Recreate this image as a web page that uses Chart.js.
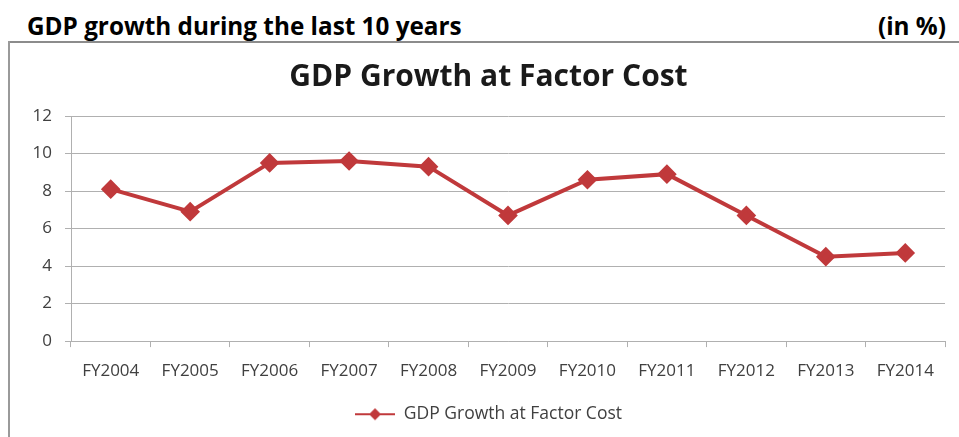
<!DOCTYPE html>
<html>
<head>
<meta charset="utf-8">
<script src="https://cdn.jsdelivr.net/npm/chart.js@4/dist/chart.umd.min.js"></script>
<style>
  html, body { margin: 0; padding: 0; background: #fff; }
  body { width: 959px; height: 437px; position: relative; overflow: hidden; font-family: "Open Sans", sans-serif; }
  .heading { position: absolute; top: 9px; font-weight: bold; font-size: 24.3px; color: #000; line-height: 34px; }
  #headLeft { left: 27px; }
  #headRight { right: 13px; }
  #rule { position: absolute; left: 8px; right: 0; top: 41px; height: 0; border-top: 2px solid #8c8c8c; }
  #frame { position: absolute; left: 8px; top: 41px; bottom: 0; width: 0; border-left: 2px solid #9a9a9a; }
  #wrap { position: absolute; left: 10px; top: 43px; width: 949px; height: 394px; }
</style>
</head>
<body>
<div class="heading" id="headLeft">GDP growth during the last 10 years</div>
<div class="heading" id="headRight">(in %)</div>
<div id="rule"></div>
<div id="frame"></div>
<div id="wrap"><canvas id="gdpChart"></canvas></div>
<script>
const years = ['FY2004', 'FY2005', 'FY2006', 'FY2007', 'FY2008', 'FY2009', 'FY2010', 'FY2011', 'FY2012', 'FY2013', 'FY2014'];
const growth = [8.1, 6.9, 9.5, 9.6, 9.3, 6.7, 8.6, 8.9, 6.7, 4.5, 4.7];
const yTicks = [0, 2, 4, 6, 8, 10, 12];

const red = '#c0393b';
const gridGray = '#b0b0b0';
const textGray = '#404040';

// legend icon: short line with a diamond in the middle
function legendIcon() {
  const c = document.createElement('canvas');
  c.width = 40; c.height = 14;
  const g = c.getContext('2d');
  g.strokeStyle = red; g.lineWidth = 2;
  g.beginPath(); g.moveTo(0, 7); g.lineTo(40, 7); g.stroke();
  g.fillStyle = red;
  g.beginPath(); g.moveTo(20, 1); g.lineTo(26, 7); g.lineTo(20, 13); g.lineTo(14, 7); g.closePath(); g.fill();
  return c;
}

const ctx = document.getElementById('gdpChart').getContext('2d');
new Chart(ctx, {
  type: 'line',
  data: {
    labels: years,
    datasets: [{
      label: 'GDP Growth at Factor Cost',
      data: growth,
      borderColor: red,
      backgroundColor: red,
      borderWidth: 4,
      pointStyle: 'rectRot',
      pointRadius: 7,
      pointBackgroundColor: red,
      pointBorderColor: red,
      tension: 0
    }]
  },
  options: {
    responsive: true,
    maintainAspectRatio: false,
    animation: false,
    layout: { padding: { left: 22, right: 14, top: 0, bottom: 4 } },
    plugins: {
      title: {
        display: true,
        text: 'GDP Growth at Factor Cost',
        color: '#1a1a1a',
        font: { family: 'Open Sans', size: 30, weight: 'bold' },
        padding: { top: 16, bottom: 21 }
      },
      legend: {
        position: 'bottom',
        labels: {
          usePointStyle: true,
          pointStyle: legendIcon(),
          pointStyleWidth: 40,
          color: textGray,
          font: { family: 'Open Sans', size: 17.5 },
          padding: 10
        }
      },
      tooltip: { enabled: false }
    },
    scales: {
      x: {
        offset: true,
        grid: { offset: true, drawOnChartArea: false, drawTicks: true, tickLength: 6, color: gridGray },
        border: { color: gridGray, width: 1 },
        ticks: { color: textGray, font: { family: 'Open Sans', size: 17 }, padding: 14, maxRotation: 0, autoSkip: false }
      },
      y: {
        min: 0,
        max: 12,
        afterFit: (scale) => { scale.width = 39; },
        afterBuildTicks: (scale) => { scale.ticks = yTicks.map(v => ({ value: v })); },
        grid: { color: gridGray, tickLength: 6 },
        border: { color: gridGray, width: 1 },
        ticks: { color: textGray, font: { family: 'Open Sans', size: 17 }, padding: 13 }
      }
    }
  }
});
</script>
</body>
</html>
